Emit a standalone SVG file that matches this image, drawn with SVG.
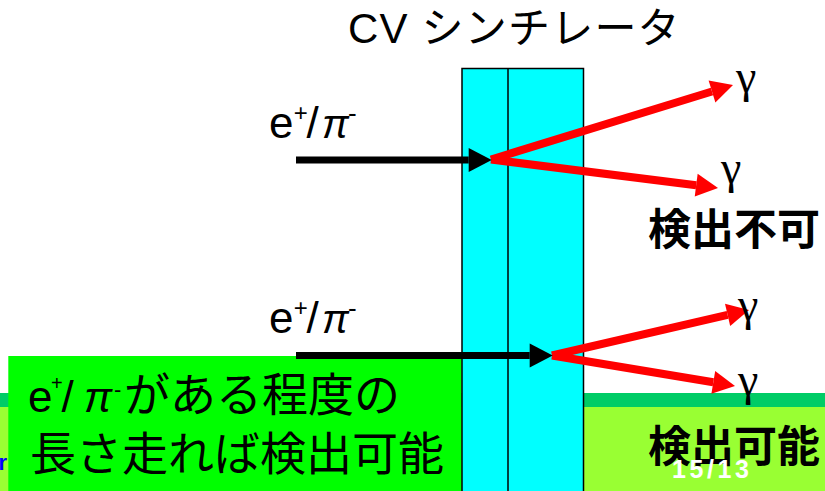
<svg xmlns="http://www.w3.org/2000/svg" width="825" height="491" viewBox="0 0 825 491">
<style>
.lat{font-family:"Liberation Sans",Arial,sans-serif;fill:#000}
.jp{font-family:"Liberation Sans","Noto Sans CJK JP",sans-serif;fill:#000}
.gam{font-family:"Liberation Serif","Times New Roman",serif;font-size:46px;fill:#000}
.pi{font-family:"Liberation Sans",Arial,sans-serif;font-style:italic}
.blk{stroke:#000;stroke-width:7;fill:none}
.red{stroke:#f00;stroke-width:8;fill:none}
.bold{font-weight:bold;font-size:43px}
</style>
<defs>
<marker id="ah-black" markerUnits="userSpaceOnUse" markerWidth="24" markerHeight="24" refX="0" refY="12" orient="auto" overflow="visible">
<path d="M0,0 L23,12 L0,24 Z" fill="#000"/>
</marker>
<marker id="ah-red" markerUnits="userSpaceOnUse" markerWidth="23" markerHeight="23" refX="0" refY="11.5" orient="auto" overflow="visible">
<path d="M0,0 L22,11.5 L0,23 Z" fill="#f00"/>
</marker>
</defs>
<rect width="825" height="491" fill="#fff"/>
<g id="background-band">
<rect x="0" y="393" width="825" height="14" fill="#00cc66"/>
<rect x="0" y="407" width="825" height="84" fill="#99ff33"/>
<text x="-1.5" y="470" font-family="Liberation Sans,Arial,sans-serif" font-weight="bold" font-size="22" fill="#0000ff">r</text>
</g>
<g id="note-box">
<rect x="8.3" y="356" width="453.5" height="135" fill="#00ff00"/>
<text class="lat" y="412"><tspan x="28" font-size="44">e</tspan><tspan x="51" y="390" font-size="20">+</tspan><tspan x="61.5" y="412" font-size="44">/</tspan><tspan class="pi" x="84" font-size="42">π</tspan><tspan x="114" y="397" font-size="22">-</tspan><tspan class="jp" x="124" y="411" font-size="46">がある程度の</tspan></text>
<text class="jp" x="30" y="470" font-size="46">長さ走れば検出可能</text>
</g>
<g id="cv-scintillator">
<rect x="462" y="68.5" width="121.5" height="440" fill="#00ffff" stroke="#000" stroke-width="1.5"/>
<line x1="508" y1="68.5" x2="508" y2="491" stroke="#000" stroke-width="1.5"/>
<text class="jp" x="348" y="43" font-size="42" letter-spacing="1.2">CV シンチレータ</text>
</g>
<g id="connectors">
<line class="red" x1="491" y1="159.5" x2="712" y2="91.5" marker-end="url(#ah-red)"/>
<line class="red" x1="491" y1="159.5" x2="696.2" y2="185.2" marker-end="url(#ah-red)"/>
<line class="red" x1="552" y1="355.5" x2="727.6" y2="314.9" marker-end="url(#ah-red)"/>
<line class="red" x1="552" y1="355.5" x2="713.3" y2="382.3" marker-end="url(#ah-red)"/>
<line class="blk" x1="296" y1="160" x2="468.7" y2="160" marker-end="url(#ah-black)"/>
<line class="blk" x1="296" y1="355.5" x2="529.7" y2="355.5" marker-end="url(#ah-black)"/>
</g>
<g id="particle-label-1">
<text class="lat" y="138"><tspan x="269" font-size="44">e</tspan><tspan x="293.8" y="121" font-size="24">+</tspan><tspan x="306.5" y="138" font-size="44">/</tspan><tspan class="pi" x="322" font-size="40">π</tspan><tspan x="348" y="122" font-size="26">-</tspan></text>
</g>
<g id="particle-label-2">
<text class="lat" y="333"><tspan x="269" font-size="44">e</tspan><tspan x="293.8" y="316" font-size="24">+</tspan><tspan x="306.5" y="333" font-size="44">/</tspan><tspan class="pi" x="322" font-size="40">π</tspan><tspan x="348" y="317" font-size="26">-</tspan></text>
</g>
<g id="gamma-labels">
<text class="gam" x="736" y="92">γ</text>
<text class="gam" x="721" y="183">γ</text>
<text class="gam" x="738" y="320">γ</text>
<text class="gam" x="738" y="395">γ</text>
</g>
<g id="result-undetectable">
<text class="jp bold" x="648" y="245">検出不可</text>
</g>
<g id="result-detectable">
<text class="jp bold" x="648" y="462">検出可能</text>
</g>
<g id="page-number">
<text x="672" y="478" font-family="Liberation Sans,Arial,sans-serif" font-weight="bold" font-size="25" fill="#fff" textLength="77" lengthAdjust="spacing">15/13</text>
</g>
</svg>
